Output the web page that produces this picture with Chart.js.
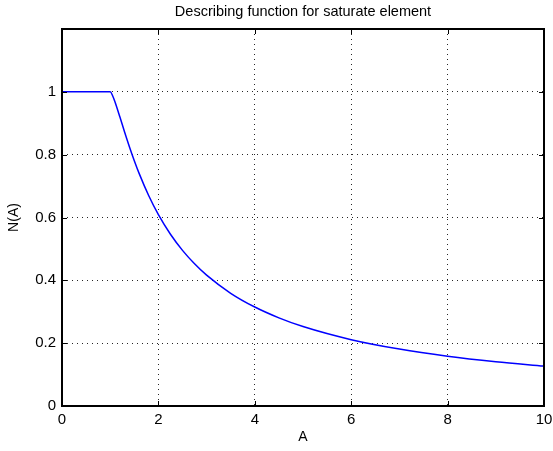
<!DOCTYPE html>
<html>
<head>
<meta charset="utf-8">
<script src="https://cdn.jsdelivr.net/npm/chart.js@4/dist/chart.umd.min.js"></script>
<style>
  html, body { margin: 0; padding: 0; background: #ffffff; }
  #wrap { width: 553px; height: 451px; position: relative; }
</style>
</head>
<body>
<div id="wrap"><canvas id="c" width="553" height="451"></canvas></div>
<script>
// Amplitude of the input sinusoid
const amplitude = [0, 0.5, 1, 1.05, 1.1, 1.2, 1.3, 1.4, 1.5, 1.6, 1.8, 2, 2.25, 2.5, 2.75,
                   3, 3.5, 4, 4.5, 5, 6, 7, 8, 9, 10];
// Describing function gain N(A) of the saturation element
const gain = [1, 1, 1, 0.9876, 0.9676, 0.9204, 0.8716, 0.8247, 0.7809, 0.7404, 0.6691, 0.6090,
              0.5467, 0.4954, 0.4526, 0.4164, 0.3588, 0.3150, 0.2806, 0.2529, 0.2112, 0.1813,
              0.1587, 0.1412, 0.1271];
const xTicks = [0, 2, 4, 6, 8, 10];
const yTicks = [0, 0.2, 0.4, 0.6, 0.8, 1];

const FONT = '"Liberation Sans", Arial, Helvetica, sans-serif';

// Axes box with inward tick marks on all four sides
const boxTicks = {
  id: 'boxTicks',
  afterDatasetsDraw(chart) {
    const { ctx, chartArea: a, scales } = chart;
    ctx.save();
    ctx.strokeStyle = '#000';
    ctx.lineWidth = 1;
    const len = 5;
    ctx.beginPath();
    xTicks.forEach(v => {
      const px = Math.round(scales.x.getPixelForValue(v)) + 0.5;
      ctx.moveTo(px, a.bottom); ctx.lineTo(px, a.bottom - len);
      ctx.moveTo(px, a.top); ctx.lineTo(px, a.top + len);
    });
    yTicks.forEach(v => {
      const py = Math.round(scales.y.getPixelForValue(v)) + 0.5;
      ctx.moveTo(a.left, py); ctx.lineTo(a.left + len, py);
      ctx.moveTo(a.right, py); ctx.lineTo(a.right - len, py);
    });
    ctx.stroke();
    ctx.lineWidth = 2;
    ctx.strokeRect(a.left, a.top, a.right - a.left, a.bottom - a.top);
    ctx.restore();
  }
};

new Chart(document.getElementById('c'), {
  type: 'line',
  data: {
    datasets: [{
      data: amplitude.map((x, i) => ({ x, y: gain[i] })),
      borderColor: '#0000ff',
      borderWidth: 1.5,
      pointRadius: 0,
      cubicInterpolationMode: 'monotone',
      fill: false
    }]
  },
  options: {
    responsive: false,
    animation: false,
    layout: { padding: { left: 0, right: 9, top: 0, bottom: 0 } },
    plugins: {
      legend: { display: false },
      tooltip: { enabled: false },
      title: {
        display: true,
        text: 'Describing function for saturate element',
        fullSize: false,
        color: '#000',
        font: { family: FONT, size: 14.5, weight: 'normal' },
        padding: { top: 3.3, bottom: 8.3 }
      }
    },
    scales: {
      x: {
        type: 'linear',
        min: 0, max: 10,
        afterFit(s) { s.height = 45; s.paddingLeft = 0; s.paddingRight = 0; },
        afterBuildTicks(s) { s.ticks = xTicks.map(v => ({ value: v })); },
        ticks: {
          color: '#000',
          font: { family: FONT, size: 15 },
          padding: 5,
          maxRotation: 0,
          callback: v => String(v)
        },
        grid: { color: 'rgba(0,0,0,0.85)', lineWidth: 1, drawTicks: false },
        border: { display: false, dash: [1, 4] },
        title: {
          display: true, text: 'A', color: '#000',
          font: { family: FONT, size: 14 },
          padding: { top: 0, bottom: 5.6 }
        }
      },
      y: {
        type: 'linear',
        min: 0, max: 1.2,
        afterFit(s) { s.width = 62; s.paddingTop = 0; s.paddingBottom = 0; },
        afterBuildTicks(s) { s.ticks = yTicks.map(v => ({ value: v })); },
        ticks: {
          color: '#000',
          font: { family: FONT, size: 15 },
          padding: 6,
          callback: v => String(Number(v.toFixed(1)))
        },
        grid: { color: 'rgba(0,0,0,0.85)', lineWidth: 1, drawTicks: false },
        border: { display: false, dash: [1, 4] },
        title: {
          display: true, text: 'N(A)', color: '#000',
          font: { family: FONT, size: 14 },
          padding: { top: 5.6, bottom: 0 }
        }
      }
    }
  },
  plugins: [boxTicks]
});
</script>
</body>
</html>
